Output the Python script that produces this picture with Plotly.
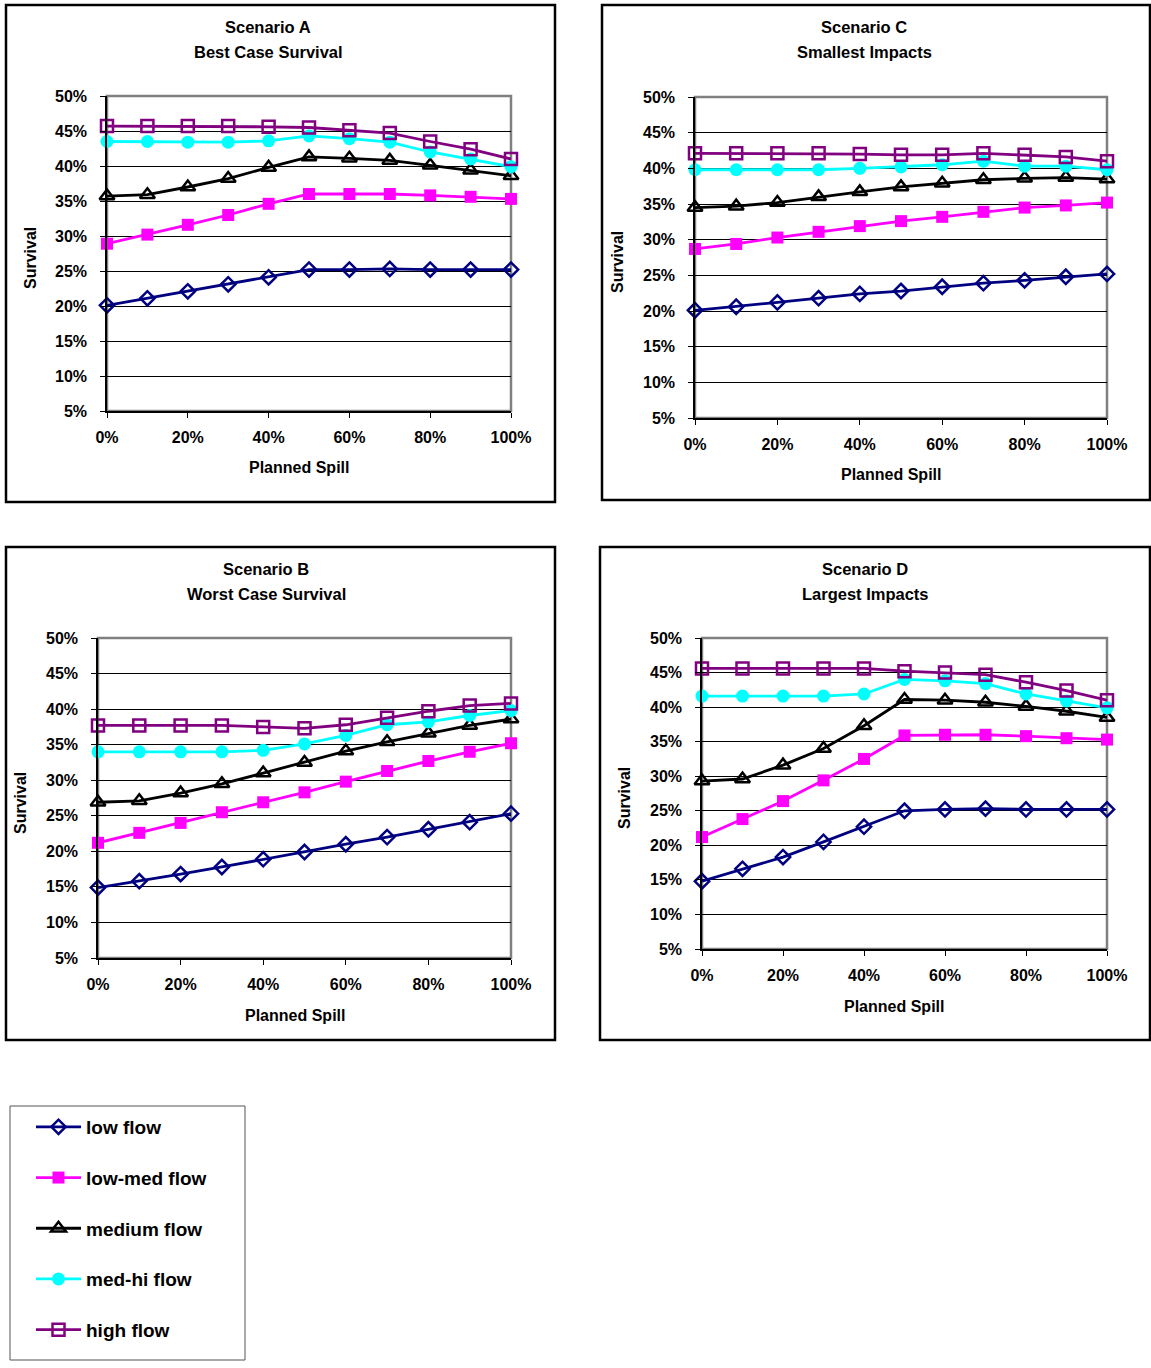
import plotly.graph_objects as go

W, H = 1151, 1368

spill = [0, 10, 20, 30, 40, 50, 60, 70, 80, 90, 100]
x_tick_vals = [0, 20, 40, 60, 80, 100]
x_tick_text = ["0%", "20%", "40%", "60%", "80%", "100%"]
y_tick_vals = [5, 10, 15, 20, 25, 30, 35, 40, 45, 50]
y_tick_text = ["5%", "10%", "15%", "20%", "25%", "30%", "35%", "40%", "45%", "50%"]

series_names = ["low flow", "low-med flow", "medium flow", "med-hi flow", "high flow"]

# Scenario A - Best Case Survival
a_low = [20.1, 21.1, 22.1, 23.1, 24.1, 25.2, 25.2, 25.3, 25.2, 25.2, 25.2]
a_lowmed = [28.9, 30.2, 31.6, 33.0, 34.6, 36.0, 36.0, 36.0, 35.8, 35.6, 35.3]
a_medium = [35.7, 35.9, 37.0, 38.2, 39.8, 41.3, 41.1, 40.8, 40.1, 39.4, 38.6]
a_medhi = [43.5, 43.5, 43.4, 43.4, 43.6, 44.3, 43.9, 43.4, 42.0, 41.0, 39.9]
a_high = [45.7, 45.7, 45.7, 45.7, 45.6, 45.5, 45.1, 44.7, 43.5, 42.4, 41.0]

# Scenario C - Smallest Impacts
c_low = [20.1, 20.6, 21.2, 21.8, 22.4, 22.8, 23.4, 23.9, 24.3, 24.8, 25.2]
c_lowmed = [28.7, 29.4, 30.3, 31.1, 31.9, 32.6, 33.2, 33.9, 34.5, 34.8, 35.2]
c_medium = [34.5, 34.7, 35.2, 36.0, 36.7, 37.4, 37.9, 38.4, 38.6, 38.7, 38.5]
c_medhi = [39.8, 39.8, 39.8, 39.8, 40.0, 40.2, 40.5, 41.0, 40.3, 40.3, 39.8]
c_high = [42.1, 42.1, 42.1, 42.1, 42.0, 41.9, 41.9, 42.1, 41.9, 41.6, 41.0]

# Scenario B - Worst Case Survival
b_low = [14.9, 15.8, 16.8, 17.8, 18.9, 19.9, 21.0, 22.0, 23.1, 24.1, 25.3]
b_lowmed = [21.2, 22.6, 24.0, 25.5, 26.9, 28.3, 29.8, 31.3, 32.7, 34.0, 35.2]
b_medium = [26.9, 27.1, 28.2, 29.5, 31.0, 32.5, 34.1, 35.4, 36.6, 37.7, 38.6]
b_medhi = [34.0, 34.0, 34.0, 34.0, 34.2, 35.1, 36.3, 37.8, 38.2, 39.1, 39.8]
b_high = [37.7, 37.7, 37.7, 37.7, 37.5, 37.3, 37.8, 38.8, 39.7, 40.5, 40.8]

# Scenario D - Largest Impacts
d_low = [14.8, 16.6, 18.3, 20.5, 22.7, 25.0, 25.2, 25.3, 25.2, 25.2, 25.2]
d_lowmed = [21.2, 23.8, 26.4, 29.4, 32.5, 35.9, 36.0, 36.0, 35.8, 35.5, 35.3]
d_medium = [29.3, 29.6, 31.6, 34.0, 37.3, 41.1, 41.0, 40.7, 40.1, 39.4, 38.5]
d_medhi = [41.6, 41.6, 41.6, 41.6, 41.9, 44.0, 43.8, 43.4, 41.9, 40.9, 39.9]
d_high = [45.6, 45.6, 45.6, 45.6, 45.6, 45.2, 45.0, 44.7, 43.6, 42.4, 41.0]

styles = [
    dict(color="#000080", symbol="diamond-open", size=11, lw=2.5),
    dict(color="#FF00FF", symbol="square", size=12, lw=0),
    dict(color="#000000", symbol="triangle-up-open", size=13, lw=2.5),
    dict(color="#00FFFF", symbol="circle", size=13, lw=0),
    dict(color="#800080", symbol="square-open", size=12, lw=2.5),
]

FONT = "Liberation Sans, Arial, sans-serif"

def px_x(p):
    return p / W

def px_y(p):
    return 1 - p / H

panels = [
    (dict(data=[a_low, a_lowmed, a_medium, a_medhi, a_high]), "", [107, 96, 511, 411],
     ("Scenario A", "Best Case Survival"), (268, 27, 52), (30, 258), (299, 468), [6, 5, 555, 502]),
    (dict(data=[c_low, c_lowmed, c_medium, c_medhi, c_high]), "2", [695, 97, 1107, 418],
     ("Scenario C", "Smallest Impacts"), (864, 27, 52), (617, 262), (891, 474), [602, 5, 1150, 500]),
    (dict(data=[b_low, b_lowmed, b_medium, b_medhi, b_high]), "3", [98, 638, 511, 958],
     ("Scenario B", "Worst Case Survival"), (266, 569, 594), (20, 803), (295, 1015), [6, 547, 555, 1040]),
    (dict(data=[d_low, d_lowmed, d_medium, d_medhi, d_high]), "4", [702, 638, 1107, 949],
     ("Scenario D", "Largest Impacts"), (865, 569, 594), (624, 798), (894, 1006), [600, 547, 1150, 1040]),
]

fig = go.Figure()
shapes = []
annotations = []
layout_axes = {}

for pi, (sd, suf, area, title, tpos, spos, ppos, box) in enumerate(panels):
    xa = "x" + suf
    ya = "y" + suf
    for si, vals in enumerate(sd["data"]):
        st = styles[si]
        fig.add_trace(go.Scatter(
            x=spill, y=vals, mode="lines+markers", name=series_names[si],
            xaxis=xa, yaxis=ya, cliponaxis=False,
            legendgroup=series_names[si], showlegend=(pi == 0),
            line=dict(color=st["color"], width=2.8),
            marker=dict(symbol=st["symbol"], size=st["size"], color=st["color"],
                        line=dict(color=st["color"], width=st["lw"])),
        ))
    l, t, r, b = area
    layout_axes["xaxis" + suf] = dict(
        domain=[px_x(l), px_x(r)], anchor=ya, range=[0, 100], automargin=False,
        tickvals=x_tick_vals, ticktext=x_tick_text,
        showgrid=False, zeroline=False, showline=True, linecolor="#000000", linewidth=1.5,
        ticks="outside", ticklen=5, tickcolor="#000000", tickwidth=1,
        tickfont=dict(family=FONT, size=16, color="#000000", weight="bold"), ticklabelstandoff=6,
    )
    layout_axes["yaxis" + suf] = dict(
        domain=[px_y(b), px_y(t)], anchor=xa, range=[5, 50], automargin=False,
        tickvals=y_tick_vals, ticktext=y_tick_text,
        showgrid=True, gridcolor="#000000", gridwidth=1,
        zeroline=False, showline=True, linecolor="#000000", linewidth=1.5,
        ticks="outside", ticklen=5, tickcolor="#000000", tickwidth=1,
        tickfont=dict(family=FONT, size=16, color="#000000", weight="bold"), ticklabelstandoff=10,
    )
    shapes.append(dict(type="rect", xref=xa + " domain", yref=ya + " domain",
                       x0=0, x1=1, y0=0, y1=1, line=dict(color="#808080", width=2.5),
                       layer="below"))
    bl, bt, br, bb = box
    shapes.append(dict(type="rect", xref="paper", yref="paper",
                       x0=px_x(bl), x1=px_x(br), y0=px_y(bb), y1=px_y(bt),
                       line=dict(color="#000000", width=2.5)))
    for line_text, ly in zip(title, tpos[1:]):
        annotations.append(dict(text="<b>" + line_text + "</b>",
                                xref="paper", yref="paper", x=px_x(tpos[0]), y=px_y(ly),
                                xanchor="center", yanchor="middle", showarrow=False,
                                font=dict(family=FONT, size=16.5, color="#000000")))
    annotations.append(dict(text="<b>Survival</b>", textangle=-90,
                            xref="paper", yref="paper", x=px_x(spos[0]), y=px_y(spos[1]),
                            xanchor="center", yanchor="middle", showarrow=False,
                            font=dict(family=FONT, size=16, color="#000000")))
    annotations.append(dict(text="<b>Planned Spill</b>",
                            xref="paper", yref="paper", x=px_x(ppos[0]), y=px_y(ppos[1]),
                            xanchor="center", yanchor="middle", showarrow=False,
                            font=dict(family=FONT, size=16, color="#000000")))

shapes.append(dict(type="rect", xref="paper", yref="paper",
                   x0=px_x(10), x1=px_x(245), y0=px_y(1360), y1=px_y(1106),
                   line=dict(color="#555555", width=1)))

fig.update_layout(
    width=W, height=H, autosize=False,
    margin=dict(l=0, r=0, t=0, b=0, pad=0, autoexpand=False),
    paper_bgcolor="#FFFFFF", plot_bgcolor="#FFFFFF",
    showlegend=True,
    legend=dict(x=px_x(31), y=px_y(1108), xanchor="left", yanchor="top",
                font=dict(family=FONT, size=19, color="#000000", weight="bold"),
                bgcolor="rgba(0,0,0,0)", borderwidth=0, tracegroupgap=23,
                itemwidth=45, traceorder="grouped"),
    shapes=shapes, annotations=annotations,
    **layout_axes,
)

fig.write_html("out.html", config={"displayModeBar": False},
               post_script="document.body.style.margin='0px';document.body.style.padding='0px';")
